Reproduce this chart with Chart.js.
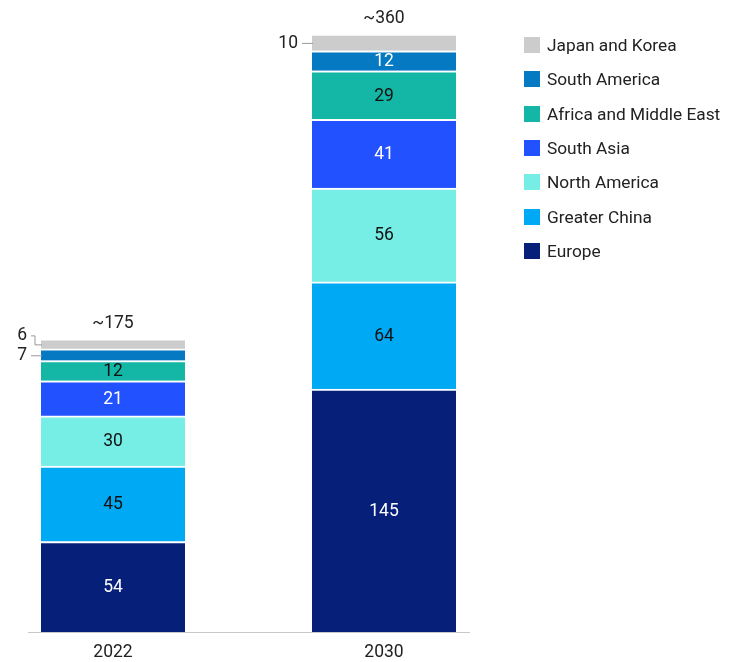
<!DOCTYPE html>
<html>
<head>
<meta charset="utf-8">
<script src="https://cdn.jsdelivr.net/npm/chart.js@4/dist/chart.umd.min.js"></script>
<style>
  html, body { margin: 0; padding: 0; background: #fff; }
  #wrap { position: relative; width: 736px; height: 662px; }
  #legend { position: absolute; left: 524px; top: 28px; font-family: Roboto, sans-serif; font-size: 17.3px; color: #222; }
  .item { display: flex; align-items: center; height: 34.3px; white-space: nowrap; }
  .box { width: 16px; height: 16px; margin-right: 7px; flex: none; }
</style>
</head>
<body>
<div id="wrap">
  <canvas id="chart" width="736" height="662"></canvas>
  <div id="legend"></div>
</div>
<script>
// Years on the x axis
const years = ['2022', '2030'];

// Regions, bottom of the stack first
const regions = ['Europe', 'Greater China', 'North America', 'South Asia', 'Africa and Middle East', 'South America', 'Japan and Korea'];
const regionColors = ['#061f79', '#00a9f4', '#76eee6', '#2251ff', '#14b6a5', '#0679c3', '#cccccc'];
const darkText = [true, false, false, true, false, true, false];

// Values per region, [2022, 2030]
const europe = [54, 145];
const greaterChina = [45, 64];
const northAmerica = [30, 56];
const southAsia = [21, 41];
const africaMiddleEast = [12, 29];
const southAmerica = [7, 12];
const japanKorea = [6, 10];
const totals = ['~175', '~360'];

const series = [europe, greaterChina, northAmerica, southAsia, africaMiddleEast, southAmerica, japanKorea];
const FONT = 'Roboto, sans-serif';

// Labels inside the bars, small ones outside with a leader line, totals on top
const labelPlugin = {
    id: 'labels',
    afterDatasetsDraw(chart) {
        const ctx = chart.ctx;
        ctx.save();
        ctx.font = '17.5px ' + FONT;
        ctx.textAlign = 'center';
        ctx.textBaseline = 'middle';
        chart.data.datasets.forEach((ds, i) => {
            const meta = chart.getDatasetMeta(i);
            meta.data.forEach((bar, j) => {
                const v = ds.data[j];
                const h = bar.base - bar.y;
                const cy = bar.y + h / 2 + 1;
                if (h > 18) {
                    ctx.fillStyle = darkText[i] ? '#fff' : '#111';
                    ctx.fillText(v, bar.x, cy);
                } else {
                    const left = bar.x - bar.width / 2;
                    ctx.fillStyle = '#222';
                    ctx.textAlign = 'right';
                    ctx.strokeStyle = '#999';
                    ctx.lineWidth = 1;
                    ctx.beginPath();
                    if (j === 0 && i === regions.length - 1) {
                        // elbow for the tiny top slice of 2022
                        ctx.fillText(v, left - 14, cy - 9);
                        ctx.moveTo(left - 10, cy - 9);
                        ctx.lineTo(left - 6, cy - 9);
                        ctx.lineTo(left - 6, cy);
                        ctx.lineTo(left + 1, cy);
                    } else {
                        ctx.fillText(v, left - 14, cy);
                        ctx.moveTo(left - 10, cy);
                        ctx.lineTo(left + 1, cy);
                    }
                    ctx.stroke();
                    ctx.textAlign = 'center';
                }
            });
        });
        // totals
        const top = chart.getDatasetMeta(regions.length - 1);
        ctx.fillStyle = '#222';
        top.data.forEach((bar, j) => {
            ctx.fillText(totals[j], bar.x, bar.y - 15);
        });
        // baseline
        const a = chart.chartArea;
        ctx.strokeStyle = '#c8c8c8';
        ctx.lineWidth = 1;
        ctx.beginPath();
        ctx.moveTo(28, a.bottom + 0.5);
        ctx.lineTo(470, a.bottom + 0.5);
        ctx.stroke();
        ctx.restore();
    }
};

new Chart(document.getElementById('chart'), {
    type: 'bar',
    data: {
        labels: years,
        datasets: regions.map((r, i) => ({
            label: r,
            data: series[i],
            backgroundColor: regionColors[i],
            borderColor: '#fff',
            borderWidth: { top: 2, bottom: 0, left: 0, right: 0 },
            borderSkipped: false,
            barThickness: 144,
            clip: false
        }))
    },
    options: {
        responsive: false,
        animation: false,
        layout: { padding: { top: 34, left: 113, right: 352, bottom: -11 } },
        plugins: { legend: { display: false }, tooltip: { enabled: false } },
        scales: {
            x: {
                stacked: true,
                offset: false,
                grid: { display: false, drawTicks: false },
                border: { display: false },
                ticks: { padding: 10, color: '#222', font: { family: FONT, size: 17.5 } }
            },
            y: {
                stacked: true,
                display: false,
                min: 0,
                max: 357
            }
        }
    },
    plugins: [labelPlugin]
});

// Legend, top of stack first
const legend = document.getElementById('legend');
for (let i = regions.length - 1; i >= 0; i--) {
    legend.insertAdjacentHTML('beforeend',
        `<div class="item"><span class="box" style="background:${regionColors[i]}"></span>${regions[i]}</div>`);
}
</script>
</body>
</html>
